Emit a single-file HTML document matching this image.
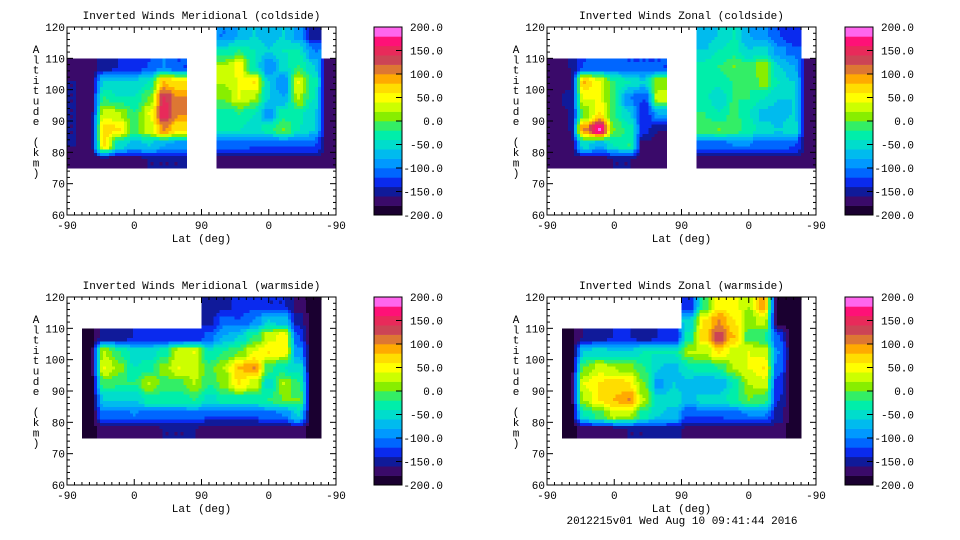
<!DOCTYPE html>
<html><head><meta charset="utf-8">
<style>
html,body{margin:0;padding:0;background:#fff;}
svg{display:block;}
text{font-family:"Liberation Mono","DejaVu Sans Mono",monospace;font-size:11px;fill:#000;}
</style></head>
<body>
<svg id="fig" width="960" height="540" viewBox="0 0 960 540"></svg>
<script>
// Shared axis data
const xTickLabels = ["-90","0","90","0","-90"];
const yTickLabels = [60,70,80,90,100,110,120];
const cbarLabels = ["200.0","150.0","100.0","50.0","0.0","-50.0","-100.0","-150.0","-200.0"];
const bandColors = ["#1a0030","#3a0a6a","#101a9a","#0a2aee","#0066ff","#0099ff","#00bbee","#00ddcc","#00eeaa","#33ee66","#88ee00","#ccff00","#ffff00","#ffdd00","#ffaa00","#dd7733","#cc4455","#e82a5a","#ff1177","#ff66ee"];
// Grid: 18 columns of 20 position units (0..360), 9 rows of 5 km; rows listed top (115-120) to bottom (75-80)
const rowAlt = [115,110,105,100,95,90,85,80,75];
const N = null;
const merCold = [
 [N,N,-170,-160,-160,-160,-160,-160,-170],
 [N,N,-170,-170,-170,-170,-170,-170,-170],
 [N,N,-150,-60,-20,30,70,60,-170],
 [N,N,-140,-60,-40,20,60,-50,-170],
 [N,N,-130,-60,-40,-20,-10,-70,-170],
 [N,N,-120,-40,0,40,30,-60,-160],
 [N,N,-100,80,140,150,100,-80,-160],
 [N,N,-120,60,100,100,60,-90,-160],
 [N,N,N,N,N,N,N,N,N],
 [N,N,N,N,N,N,N,N,N],
 [-100,-40,20,20,0,-30,-40,-110,-170],
 [-80,-20,50,40,40,-20,-40,-110,-170],
 [-60,-40,-40,60,20,-40,-50,-120,-170],
 [-70,-60,-100,-60,-60,-90,-30,-120,-170],
 [-60,-40,-50,-100,-80,-30,0,-120,-170],
 [-90,-40,-20,40,20,-30,-40,-120,-170],
 [-150,-100,-60,-30,-40,-60,-60,-120,-170],
 [N,N,-170,-170,-170,-170,-170,-170,-170]
];
const zonCold = [
 [N,N,-170,-170,-170,-170,-170,-170,-170],
 [N,N,-160,-170,-150,-160,-160,-170,-170],
 [N,N,-120,80,40,0,100,-50,-170],
 [N,N,-110,40,40,60,180,-80,-170],
 [N,N,-110,-20,-20,-20,0,-40,-160],
 [N,N,-120,-40,-100,-60,-30,-20,-160],
 [N,N,-120,-60,-120,-140,-130,-170,-170],
 [N,N,-120,10,30,-80,-160,-170,-170],
 [N,N,N,N,N,N,N,N,N],
 [N,N,N,N,N,N,N,N,N],
 [-80,-60,-30,-40,-30,-20,-10,-110,-170],
 [-60,-40,-20,-30,-60,-40,0,-110,-170],
 [-40,-30,0,-20,-20,-10,-10,-100,-170],
 [-80,-60,-10,-20,-20,-40,-30,-100,-170],
 [-90,-50,10,10,-40,-70,-50,-110,-170],
 [-120,-90,-60,-40,-60,-70,-60,-110,-170],
 [-140,-110,-80,-60,-60,-60,-50,-120,-170],
 [N,N,-170,-170,-170,-170,-170,-170,-170]
];
const merWarm = [
 [N,N,N,N,N,N,N,N,N],
 [N,N,-190,-190,-190,-190,-190,-190,-190],
 [N,N,-150,20,40,-10,-60,-110,-170],
 [N,N,-150,-20,10,-20,-60,-110,-170],
 [N,N,-140,-50,-40,-20,-60,-100,-170],
 [N,N,-140,-50,-30,20,-30,-110,-170],
 [N,N,-140,-30,10,-10,-30,-110,-160],
 [N,N,-140,30,40,-10,-30,-110,-160],
 [N,N,-140,40,30,20,-20,-110,-160],
 [-160,-150,-110,-40,-10,-20,-50,-120,-180],
 [-150,-110,-80,-20,20,10,-30,-120,-180],
 [-130,-120,-60,0,80,60,-30,-120,-180],
 [-130,-100,-20,40,100,30,-30,-120,-180],
 [-140,-60,30,60,-10,-50,-20,-110,-170],
 [-140,-70,50,50,-40,20,0,-100,-170],
 [-170,-150,-120,-90,-50,-20,0,-60,-170],
 [-190,-190,-190,-190,-190,-190,-190,-190,-190],
 [N,N,N,N,N,N,N,N,N]
];
const zonWarm = [
 [N,N,N,N,N,N,N,N,N],
 [N,N,-190,-190,-190,-190,-190,-190,-190],
 [N,N,-160,-60,0,40,20,-40,-170],
 [N,N,-150,-50,30,60,60,-10,-170],
 [N,N,-140,-60,20,70,80,30,-170],
 [N,N,-140,-60,10,60,100,20,-160],
 [N,N,-150,-40,-20,0,20,-30,-160],
 [N,N,-140,-40,-60,-90,-50,-60,-150],
 [N,N,-140,-40,-70,-60,-50,-70,-150],
 [-140,-60,-30,20,-40,-70,-70,-120,-170],
 [-20,60,70,20,-30,-80,-50,-120,-170],
 [50,100,130,60,-20,-80,-50,-120,-170],
 [50,60,80,30,20,-40,-30,-110,-170],
 [20,10,-10,40,40,20,0,-100,-170],
 [90,30,-20,30,60,30,-10,-100,-170],
 [-190,-190,-120,-100,-110,-130,-140,-150,-170],
 [-190,-190,-190,-190,-190,-190,-190,-190,-190],
 [N,N,N,N,N,N,N,N,N]
];
const panels = [
 {title:"Inverted Winds Meridional (coldside)", ox:0, oy:0, cbx:374, data:merCold, name:"meridional-coldside"},
 {title:"Inverted Winds Zonal (coldside)", ox:480, oy:0, cbx:845, data:zonCold, name:"zonal-coldside"},
 {title:"Inverted Winds Meridional (warmside)", ox:0, oy:270, cbx:374, data:merWarm, name:"meridional-warmside"},
 {title:"Inverted Winds Zonal (warmside)", ox:480, oy:270, cbx:845, data:zonWarm, name:"zonal-warmside"}
];
const NS="http://www.w3.org/2000/svg";
const svg=document.getElementById('fig');
function mk(tag,attrs,parent){const e=document.createElementNS(NS,tag);for(const k in attrs)e.setAttribute(k,attrs[k]);(parent||svg).appendChild(e);return e;}
function colorFor(v){let i=Math.floor((v+200)/20);if(i<0)i=0;if(i>19)i=19;return bandColors[i];}
function cellVal(data,c,r){if(c<0||c>17||r<0||r>8)return null;return data[c][8-r];}
function sharp(f){const s=(f-0.5)*1.5+0.5;return s<0?0:(s>1?1:s);}
function interp(data,pos,alt){
  const u=pos/20-0.5, w=(alt-75)/5-0.5;
  const c0=Math.floor(u), r0=Math.floor(w), fu=sharp(u-c0), fw=sharp(w-r0);
  let s=0, ws=0;
  [[c0,r0,(1-fu)*(1-fw)],[c0+1,r0,fu*(1-fw)],[c0,r0+1,(1-fu)*fw],[c0+1,r0+1,fu*fw]].forEach(([c,r,wt])=>{
    const v=cellVal(data,c,r); if(v!==null&&wt>0){s+=v*wt;ws+=wt;}
  });
  return ws>0?s/ws:null;
}
const SX=4, SY=1;
panels.forEach(p=>{
  const L=67+p.ox, R=336+p.ox, T=27+p.oy, B=215+p.oy;
  const xs=pos=>L+(pos/360)*(R-L);
  const ys=alt=>B-(alt-60)/60*(B-T);
  const g=mk('g',{});
  
  
  const cg=mk('g',{'shape-rendering':'crispEdges'},g);
  
  
  for(let pos=0;pos<360;pos+=SX){
    for(let alt=75;alt<120;alt+=SY){
      const c=Math.floor(pos/20), r=Math.floor((alt-75)/5);
      if(cellVal(p.data,c,r)===null)continue;
      const v=interp(p.data,pos+SX/2,alt+SY/2);
      if(v===null)continue;
      const x0=xs(pos), x1=xs(pos+SX), y0=ys(alt+SY), y1=ys(alt);
      const rc=mk('rect',{x:x0.toFixed(2),y:y0.toFixed(2),width:(x1-x0+0.5).toFixed(2),height:(y1-y0+0.5).toFixed(2),fill:colorFor(v)},cg);
      
      
    }
  }
  const fr=mk('rect',{x:L,y:T,width:R-L,height:B-T,fill:'none',stroke:'#000','stroke-width':1},g);
  
  
  for(let pos=0;pos<=360;pos+=10){
    const x=xs(pos), len=(pos%90===0)?6:3;
    mk('line',{x1:x,y1:B,x2:x,y2:B-len,stroke:'#000'},g);
    mk('line',{x1:x,y1:T,x2:x,y2:T+len,stroke:'#000'},g);
  }
  xTickLabels.forEach((lab,i)=>{
    const t=mk('text',{x:xs(i*90),y:B+14,'text-anchor':'middle'},g);
    t.textContent=lab;
    
    
  });
  for(let a=60;a<=120;a+=2){
    const y=ys(a), len=(a%10===0)?6:3;
    mk('line',{x1:L,y1:y,x2:L+len,y2:y,stroke:'#000'},g);
    mk('line',{x1:R,y1:y,x2:R-len,y2:y,stroke:'#000'},g);
  }
  yTickLabels.forEach(a=>{
    const t=mk('text',{x:L-2,y:ys(a)+4,'text-anchor':'end'},g);
    t.textContent=a;
    
    
  });
  const tt=mk('text',{x:(L+R)/2,y:T-8,'text-anchor':'middle'},g);
  tt.textContent=p.title;
  
  
  const xt=mk('text',{x:(L+R)/2,y:B+27,'text-anchor':'middle'},g);
  xt.textContent="Lat (deg)";
  
  
  const yt=mk('text',{x:36,y:0,'text-anchor':'middle'},g);
  
  
  "Altitude (km)".split('').forEach((ch,i)=>{
    const s=mk('tspan',{x:36+p.ox,y:T+26+i*10.3},yt);
    s.textContent=ch===' '?'\u00a0':ch;
  });
  const cb=mk('g',{},g);
  
  
  const bh=(B-T)/20;
  bandColors.forEach((c,i)=>{
    const r=mk('rect',{x:p.cbx,y:(B-(i+1)*bh).toFixed(2),width:28,height:(bh+0.3).toFixed(2),fill:c},cb);
    
    
  });
  mk('rect',{x:p.cbx,y:T,width:28,height:B-T,fill:'none',stroke:'#000'},cb);
  cbarLabels.forEach((lab,i)=>{
    const y=T+i*(B-T)/8;
    mk('line',{x1:p.cbx+28,y1:y,x2:p.cbx+22,y2:y,stroke:'#000'},cb);
    const t=mk('text',{x:p.cbx+69,y:y+4,'text-anchor':'end'},cb);
    t.textContent=lab;
    
    
  });
});
const ft=mk('text',{x:682,y:524,'text-anchor':'middle'});
ft.textContent="2012215v01 Wed Aug 10 09:41:44 2016";


</script>
</body></html>
